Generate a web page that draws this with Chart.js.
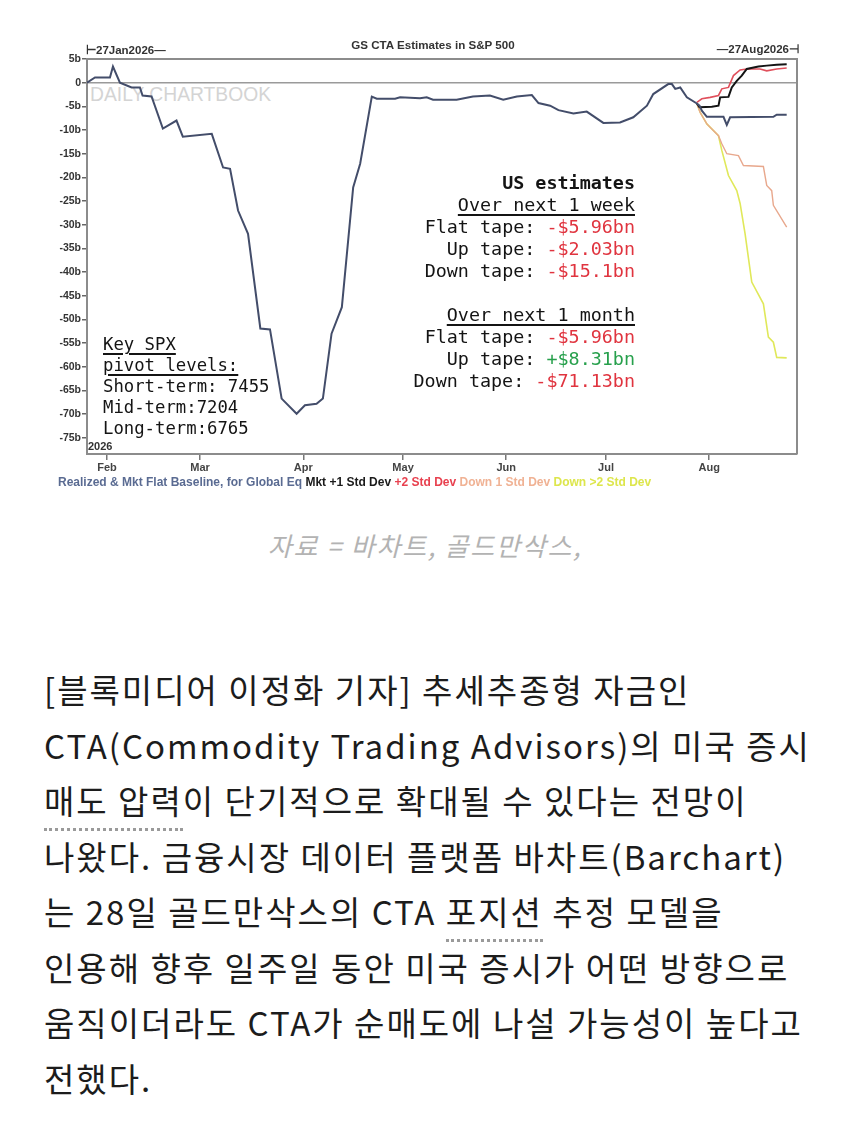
<!DOCTYPE html>
<html>
<head>
<meta charset="utf-8">
<script src="https://cdn.jsdelivr.net/npm/chart.js@4.4.0/dist/chart.umd.min.js"></script>
<style>
  body { margin: 0; background: #fff; width: 850px; height: 1138px; overflow: hidden; font-family: "Liberation Sans", Arial, sans-serif; }
  #wrap { position: relative; width: 850px; height: 500px; }
  #chart { position: absolute; left: 0; top: 0; z-index: 2; }
  .abs { position: absolute; white-space: pre; }
  .mono { font-family: "DejaVu Sans Mono", monospace; color: #141414; }
  .red { color: #e0343f; }
  .green { color: #27a04c; }
  .u { text-decoration: underline; text-decoration-thickness: 2px; text-underline-offset: 3px; }
  #article { position: absolute; left: 44px; top: 662px; font-family: "Noto Sans CJK KR", sans-serif; font-size: 33px; line-height: 55.5px; color: #1c1c1c; white-space: pre; letter-spacing: 2px; }
  .dot { border-bottom: 3px dotted #9a9a9a; padding-bottom: 4px; }
</style>
</head>
<body>
<div id="wrap">
  <div class="abs" style="left:90px;top:84px;font-size:19.3px;line-height:22px;color:#d4d4d4;z-index:1;">DAILY CHARTBOOK</div>
  <canvas id="chart" width="850" height="500"></canvas>
  <div class="abs" style="left:283px;width:300px;text-align:center;top:37px;font-size:11.6px;line-height:15px;font-weight:bold;color:#333;z-index:3;">GS CTA Estimates in S&amp;P 500</div>
  <div class="abs" style="left:86px;top:44px;font-size:11.5px;line-height:13px;font-weight:bold;color:#333;z-index:3;">⊢27Jan2026—</div>
  <div class="abs" style="right:51px;top:43px;font-size:11.5px;line-height:13px;font-weight:bold;color:#333;z-index:3;">—27Aug2026⊣</div>
  <div class="abs" style="left:88px;top:440px;font-size:11px;line-height:13px;font-weight:bold;color:#333;z-index:3;">2026</div>

  <div class="abs mono" style="right:215px;top:172px;font-size:18.4px;line-height:22px;text-align:right;z-index:3;"><b>US estimates</b>
<span class="u">Over next 1 week</span>
Flat tape: <span class="red">-$5.96bn</span>
Up tape: <span class="red">-$2.03bn</span>
Down tape: <span class="red">-$15.1bn</span>

<span class="u">Over next 1 month</span>
Flat tape: <span class="red">-$5.96bn</span>
Up tape: <span class="green">+$8.31bn</span>
Down tape: <span class="red">-$71.13bn</span></div>

  <div class="abs mono" style="left:103px;top:334px;font-size:17.3px;line-height:21px;z-index:3;"><span class="u">Key SPX</span>
<span class="u">pivot levels:</span>
Short-term: 7455
Mid-term:7204
Long-term:6765</div>

  <div class="abs" style="left:58px;top:475px;font-size:12px;line-height:15px;font-weight:bold;z-index:3;"><span style="color:#5a6b92">Realized &amp; Mkt Flat Baseline, for Global Eq</span> <span style="color:#1a1a1a">Mkt +1 Std Dev</span> <span style="color:#e8414f">+2 Std Dev</span> <span style="color:#f0b294">Down 1 Std Dev</span> <span style="color:#dde64c">Down &gt;2 Std Dev</span></div>
</div>

<div class="abs" style="left:0;width:850px;text-align:center;top:527px;font-family:'Noto Sans CJK KR',sans-serif;font-size:26px;line-height:36px;font-style:italic;color:#b3b3b3;letter-spacing:1.8px;">자료 = 바차트, 골드만삭스,</div>

<div id="article">[블록미디어 이정화 기자] 추세추종형 자금인
CTA(Commodity Trading Advisors)의 미국 증시
<span class="dot">매도 압력</span>이 단기적으로 확대될 수 있다는 전망이
나왔다. 금융시장 데이터 플랫폼 바차트(Barchart)
는 28일 골드만삭스의 CTA <span class="dot">포지션</span> 추정 모델을
인용해 향후 일주일 동안 미국 증시가 어떤 방향으로
움직이더라도 CTA가 순매도에 나설 가능성이 높다고
전했다.</div>

<script>
// x values are days counted from 27 Jan 2026
const monthDays = [5, 33, 64, 94, 125, 155, 186];
const monthLabels = ['Feb', 'Mar', 'Apr', 'May', 'Jun', 'Jul', 'Aug'];

// Realized & Mkt Flat Baseline ($bn)
const baseDays = [-1, 1.4, 5.9, 6.8, 8.9, 12.4, 14.9, 15.7, 18.4, 21.8, 25.9, 27.8, 36.5, 39.9, 42.0,
  44.4, 47.4, 51.1, 54.0, 57.5, 62.0, 64.5, 68.0, 69.9, 72.5, 75.6, 79.0, 81.1, 84.6, 86.1,
  91.6, 93.1, 99.1, 101.1, 103.0, 110.1, 115.0, 120.1, 124.1, 128.2, 132.7, 134.7, 138.2, 140.7, 145.2,
  149.2, 154.2, 159.2, 163.2, 167.3, 169.2, 173.7, 174.8, 175.8, 177.3, 179.3, 182.3, 183.1, 183.8, 185.3,
  190.3, 191.3, 192.3, 205.3, 206.3, 209.3];
const baseVals = [0, 1.1, 1.1, 3.4, 0, -1.0, -1.0, -2.7, -2.9, -9.7, -8.0, -11.4, -10.8, -17.9, -18.2,
  -27, -31.9, -51.9, -52.1, -66.7, -69.9, -68.1, -67.8, -66.7, -53, -47.4, -22.1, -17.1, -2.95, -3.4,
  -3.4, -3.1, -3.3, -3.1, -3.6, -3.6, -2.9, -2.7, -3.6, -2.9, -2.6, -4.3, -4.85, -5.8, -6.5,
  -6.1, -8.5, -8.4, -7.3, -4.85, -2.4, -0.3, -0.3, -1.3, -1.0, -3.1, -4.4, -4.85, -5.9, -7.2,
  -7.2, -8.9, -7.3, -7.2, -6.75, -6.75];

// Mkt +1 Std Dev
const up1Days = [182.3, 183.1, 186.8, 188.8, 189.3, 191.8, 192.8, 194.3, 195.8, 197.3, 200.8, 203.3, 206.3, 209.3];
const up1Vals = [-4.4, -5.2, -5.1, -4.85, -3.1, -3.0, -1.0, 0.4, 1.5, 2.9, 3.4, 3.6, 3.8, 3.9];

// +2 Std Dev
const up2Days = [182.3, 183.8, 186.3, 188.8, 189.8, 191.8, 193.3, 195.3, 197.3, 201.3, 203.3, 206.3, 209.3];
const up2Vals = [-4.15, -3.4, -3.1, -2.7, -1.3, -1.0, 1.5, 2.7, 2.9, 2.9, 2.5, 2.9, 3.1];

// Down 1 Std Dev
const down1Days = [182.3, 183.3, 185.3, 188.8, 189.8, 191.3, 194.8, 196.3, 202.3, 203.3, 204.8, 205.3, 209.3];
const down1Vals = [-4.4, -6.3, -8.7, -11.2, -12.9, -15.0, -15.4, -17.5, -17.7, -21.7, -22.8, -25.9, -30.5];

// Down >2 Std Dev
const down2Days = [182.3, 183.3, 185.3, 188.8, 189.8, 191.8, 194.3, 195.3, 196.8, 198.8, 202.3, 203.8, 205.3, 206.3, 209.3];
const down2Vals = [-4.4, -6.3, -8.7, -11.2, -14.3, -19.6, -22.8, -25.5, -31.9, -42.1, -46.7, -53.7, -54.8, -58.0, -58.1];

function series(label, days, vals, color, width) {
  return {
    label: label,
    data: days.map((d, i) => ({ x: d, y: vals[i] })),
    borderColor: color,
    borderWidth: width,
    pointRadius: 0,
    tension: 0,
    fill: false
  };
}

// top and right edges of the plot box
const framePlugin = {
  id: 'frame',
  afterDraw(chart) {
    const { ctx, chartArea: a } = chart;
    ctx.save();
    ctx.strokeStyle = '#8c8c8c';
    ctx.lineWidth = 2;
    ctx.beginPath();
    ctx.moveTo(a.left, a.top);
    ctx.lineTo(a.right, a.top);
    ctx.lineTo(a.right, a.bottom);
    ctx.stroke();
    ctx.restore();
  }
};

Chart.defaults.font.family = '"Liberation Sans", Arial, sans-serif';

new Chart(document.getElementById('chart'), {
  type: 'line',
  data: {
    datasets: [
      series('Realized & Mkt Flat Baseline, for Global Eq', baseDays, baseVals, '#434d6a', 2),
      series('Mkt +1 Std Dev', up1Days, up1Vals, '#141414', 2),
      series('+2 Std Dev', up2Days, up2Vals, '#e0505c', 1.6),
      series('Down 1 Std Dev', down1Days, down1Vals, '#e8a88d', 1.4),
      series('Down >2 Std Dev', down2Days, down2Vals, '#e0e85a', 1.6)
    ]
  },
  options: {
    responsive: false,
    animation: false,
    devicePixelRatio: 1,
    layout: { padding: { top: 59, right: 53, bottom: 0, left: 0 } },
    plugins: {
      legend: { display: false },
      tooltip: { enabled: false }
    },
    scales: {
      x: {
        type: 'linear',
        min: -1,
        max: 212.4,
        afterBuildTicks: (s) => { s.ticks = monthDays.map(v => ({ value: v })); },
        afterFit: (s) => { s.height = 46; },
        ticks: {
          autoSkip: false,
          maxRotation: 0,
          padding: 1,
          color: '#444',
          font: { size: 11, weight: 'bold' },
          callback: (v) => monthLabels[monthDays.indexOf(v)]
        },
        grid: { drawOnChartArea: false, tickLength: 6, tickColor: '#777', lineWidth: 1.5 },
        border: { color: '#8c8c8c', width: 2 }
      },
      y: {
        min: -78.4,
        max: 5,
        afterFit: (s) => { s.width = 87; },
        ticks: {
          stepSize: 5,
          includeBounds: false,
          padding: 1,
          color: '#333',
          font: { size: 10.5, weight: 'bold' },
          callback: (v) => v === 0 ? '0' : v + 'b'
        },
        grid: {
          color: (c) => (c.tick && c.tick.value === 0) ? '#9a9a9a' : 'rgba(0,0,0,0)',
          lineWidth: 1.5,
          tickLength: 5,
          tickColor: '#666'
        },
        border: { color: '#8c8c8c', width: 2 }
      }
    }
  },
  plugins: [framePlugin]
});
</script>
</body>
</html>
